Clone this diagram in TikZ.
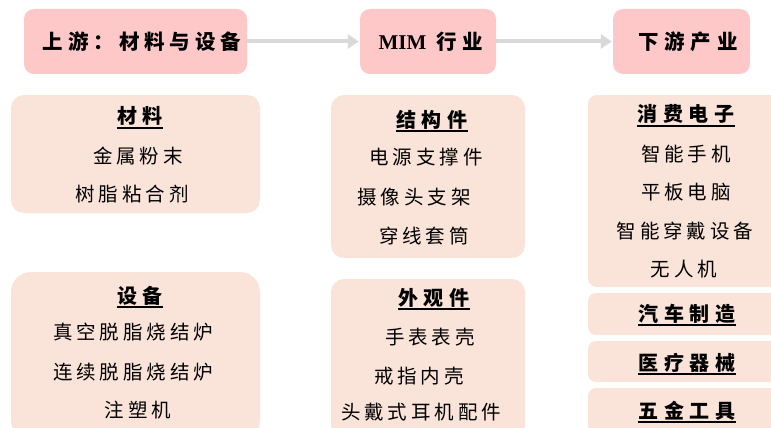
\documentclass[tikz,border=0pt]{standalone}
\usepackage{fontspec}
\setmainfont{Liberation Serif}
\newfontfamily\cjk[LetterSpace=20]{Noto Sans CJK SC}
\newfontfamily\cjkt[LetterSpace=28]{Noto Sans CJK SC}
\newfontfamily\cjktop[LetterSpace=24]{Noto Sans CJK SC}
\usetikzlibrary{arrows.meta}
\definecolor{topc}{HTML}{FFC8C8}
\definecolor{boxc}{HTML}{FAE3D8}
\definecolor{arrc}{HTML}{D9D9D9}
\tikzset{
  topbox/.style={fill=topc, rounded corners=10pt, inner sep=0pt},
  cbox/.style={fill=boxc, rounded corners=13pt, inner sep=0pt},
  toptxt/.style={font=\cjkt\bfseries\fontsize{20.5}{24}\selectfont, inner sep=0pt},
  ttl/.style={font=\cjkt\bfseries\fontsize{20}{23}\selectfont, inner sep=0pt},
  itm/.style={font=\cjk\fontsize{19.5}{23}\selectfont, inner sep=0pt},
  uline/.style={line width=1.8pt, black},
  arr/.style={draw=arrc, line width=4pt, -{Triangle[length=11pt,width=14pt]}, shorten >=1pt}
}
\begin{document}
\begin{tikzpicture}[x=1pt,y=-1pt]
\useasboundingbox (0,0) rectangle (771,428);
% top boxes
\node[topbox, minimum width=223pt, minimum height=65pt] (up) at (135.5,41.5) {};
\node[topbox, minimum width=136pt, minimum height=65pt] (mim) at (428,41.5) {};
\node[topbox, minimum width=137pt, minimum height=65pt] (down) at (681.5,41.5) {};
\node[toptxt, font=\cjktop\bfseries\fontsize{20.5}{24}\selectfont] (upt) at (142,42) {上游：材料与设备};
\node[toptxt] (mimt) at (431,42) {{\rmfamily\bfseries\fontsize{21}{24}\selectfont MIM} 行业};
\node[toptxt] (downt) at (688,42) {下游产业};
\draw[arr] (up.east) -- (mim.west);
\draw[arr] (mim.east) -- (down.west);
% content boxes
\node[cbox, minimum width=249pt, minimum height=118pt] (mat) at (135.5,154) {};
\node[cbox, rounded corners=20pt, minimum width=249pt, minimum height=168pt] (equ) at (135.5,356) {};
\node[cbox, minimum width=194pt, minimum height=163pt] (str) at (428,176.5) {};
\node[cbox, minimum width=194pt, minimum height=160pt] (app) at (428,359) {};
\node[cbox, rounded corners=9pt, minimum width=197pt, minimum height=192pt] (ce) at (686.5,191) {};
\node[cbox, rounded corners=8pt, minimum width=197pt, minimum height=42pt] (car) at (686.5,314) {};
\node[cbox, rounded corners=8pt, minimum width=197pt, minimum height=41pt] (med) at (686.5,361.5) {};
\node[cbox, rounded corners=8pt, minimum width=197pt, minimum height=50pt] (hw) at (686.5,413) {};
% materials
\node[ttl] (t1) at (140,116) {材料};
\draw[uline] (t1.west |- 0,128) -- (t1.east |- 0,128);
\node[itm] (m1) at (138,156) {金属粉末};
\node[itm] (m2) at (132,194) {树脂粘合剂};
% equipment
\node[ttl] (t2) at (140,296) {设备};
\draw[uline] (t2.west |- 0,307) -- (t2.east |- 0,307);
\node[itm] (e1) at (133,332) {真空脱脂烧结炉};
\node[itm] (e2) at (133,372) {连续脱脂烧结炉};
\node[itm] (e3) at (138,410) {注塑机};
% structural parts
\node[ttl] (t3) at (432,120) {结构件};
\draw[uline] (t3.west |- 0,131) -- (t3.east |- 0,131);
\node[itm] (s1) at (426,157) {电源支撑件};
\node[itm] (s2) at (414,197) {摄像头支架};
\node[itm] (s3) at (424,236) {穿线套筒};
% appearance parts
\node[ttl] (t4) at (434,298) {外观件};
\draw[uline] (t4.west |- 0,309) -- (t4.east |- 0,309);
\node[itm] (a1) at (430,337) {手表表壳};
\node[itm] (a2) at (419,376) {戒指内壳};
\node[itm] (a3) at (421,412) {头戴式耳机配件};
% consumer electronics
\node[ttl] (t5) at (686,114) {消费电子};
\draw[uline] (t5.west |- 0,126) -- (t5.east |- 0,126);
\node[itm] (c1) at (686,154) {智能手机};
\node[itm] (c2) at (686,192) {平板电脑};
\node[itm] (c3) at (685,231) {智能穿戴设备};
\node[itm] (c4) at (684,269) {无人机};
% others
\node[ttl] (t6) at (687,314) {汽车制造};
\draw[uline] (t6.west |- 0,325) -- (t6.east |- 0,325);
\node[ttl] (t7) at (687,363) {医疗器械};
\draw[uline] (t7.west |- 0,374) -- (t7.east |- 0,374);
\node[ttl] (t8) at (687,411) {五金工具};
\draw[uline] (t8.west |- 0,422) -- (t8.east |- 0,422);
\end{tikzpicture}
\end{document}
